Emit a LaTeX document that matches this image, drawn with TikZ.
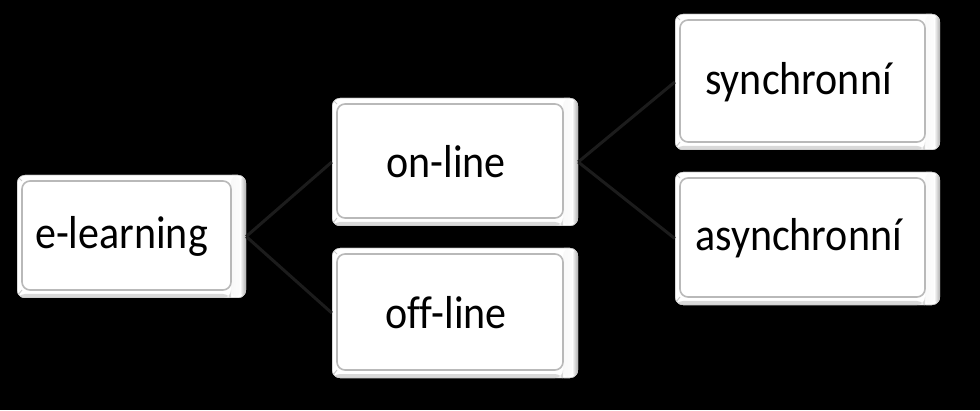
\documentclass[tikz,border=0pt]{standalone}
\usepackage{fontspec}
\setmainfont{Carlito}[Ligatures=CommonOff]
\usetikzlibrary{shadings}
\newcommand\bevtext[1]{\scalebox{1}[1.1]{#1}}
\begin{document}
\begin{tikzpicture}[x=1pt,y=1pt,
  bev/.style={rectangle, rounded corners=8pt, inner sep=0pt, fill=white,
    font=\fontsize{42}{44}\selectfont, text=black,
    path picture={
      \shade[left color=gray!80, right color=white]
        ([xshift=-15pt]path picture bounding box.south east) rectangle ([xshift=-6pt]path picture bounding box.north east);
      \shade[left color=white, right color=gray!65]
        ([xshift=-6pt]path picture bounding box.south east) rectangle (path picture bounding box.north east);
      \fill[gray!30] (path picture bounding box.south west) rectangle ([xshift=-15pt,yshift=4pt]path picture bounding box.south east);
      \draw[gray!55, line width=1.6pt] ([xshift=5pt,yshift=8pt]path picture bounding box.south west) rectangle ([xshift=-15pt,yshift=-6pt]path picture bounding box.north east);
      \draw[gray!40, line width=1pt] ([xshift=5pt,yshift=-6pt]path picture bounding box.north west) -- ([xshift=1pt,yshift=-2pt]path picture bounding box.north west);
      \draw[gray!40, line width=1pt] ([xshift=5pt,yshift=8pt]path picture bounding box.south west) -- ([xshift=1pt,yshift=3pt]path picture bounding box.south west);
      \draw[gray!45, line width=1pt] (path picture bounding box.south west) rectangle (path picture bounding box.north east);
    }},
  conn/.style={draw={rgb,255:red,28;green,28;blue,28}, line width=3pt}]
\fill[black] (0,0) rectangle (980,410);
\useasboundingbox (0,0) rectangle (980,410);
\node[bev, minimum width=229pt, minimum height=123pt] (el) at (131.5,173.5) {\hspace*{-20pt}\bevtext{e-learning}};
\node[bev, minimum width=246pt, minimum height=128pt] (on) at (455,248) {\hspace*{-18pt}\bevtext{on-line}};
\node[bev, minimum width=246pt, minimum height=130pt] (off) at (455,97) {\hspace*{-18pt}\bevtext{off-line}};
\node[bev, minimum width=265pt, minimum height=136pt] (syn) at (807.5,328) {\hspace*{-18pt}\bevtext{synchronní}};
\node[bev, minimum width=265pt, minimum height=133pt] (asyn) at (807.5,171.5) {\hspace*{-18pt}\bevtext{asynchronní}};
\draw[conn] (el.east) -- (on.west);
\draw[conn] (el.east) -- (off.west);
\draw[conn] (on.east) -- (syn.west);
\draw[conn] (on.east) -- (asyn.west);
\end{tikzpicture}
\end{document}
